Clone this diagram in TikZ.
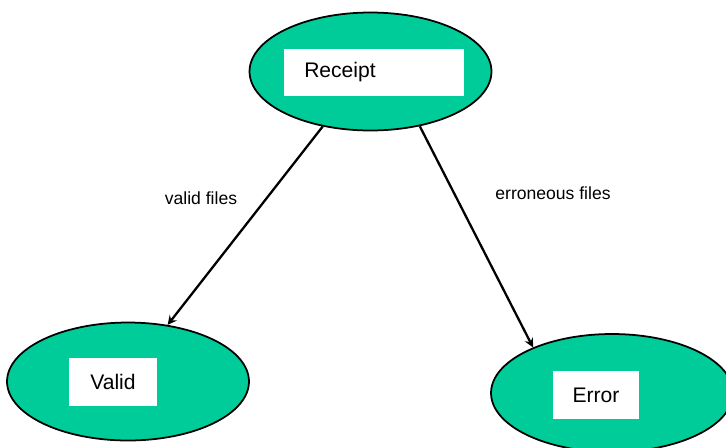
\documentclass[tikz,border=0pt]{standalone}
\usepackage{fontspec}
\setmainfont{Liberation Sans}
\usetikzlibrary{arrows, shapes.geometric}

\definecolor{stategreen}{RGB}{0,204,153}

\begin{document}
\begin{tikzpicture}[
            x = 0.02cm, y = -0.02cm, % one unit per pixel
            > = stealth, % arrow head style
            flow/.style = {->, line width = 1.3pt} % connector style
        ]

        \tikzstyle{every state}=[
            ellipse,
            draw = black,
            line width = 1pt,
            fill = stategreen,
            minimum width = 4.84cm,
            minimum height = 2.36cm
        ]
        \tikzstyle{label box}=[
            rectangle,
            fill = white,
            minimum height = 0.95cm,
            inner sep = 0pt,
            font = \fontsize{12}{14}\selectfont
        ]
        \tikzstyle{edge text}=[
            font = \fontsize{10}{12}\selectfont
        ]

        \useasboundingbox (0,0) rectangle (726,447);
        \clip (0,0) rectangle (726,447);

        \node[every state] (r) at (370.5,71.5) {};
        \node[every state] (v) at (128,381.5)  {};
        \node[every state] (e) at (612,393)    {};

        \node[label box, minimum width=3.6cm]  (rbox) at (374,72.5) {};
        \node[font=\fontsize{12}{14}\selectfont] (rtext) at (340,72) {Receipt};
        \node[label box, minimum width=1.76cm] (vbox) at (113,382) {Valid};
        \node[label box, minimum width=1.72cm] (ebox) at (596,395) {Error};

        \path[flow] (r.229) edge (v.55);
        \path[flow] (r.312) edge (e.150);

        \node[edge text] (vlabel) at (201,198) {valid files};
        \node[edge text] (elabel) at (553,193) {erroneous files};
    \end{tikzpicture}
\end{document}
